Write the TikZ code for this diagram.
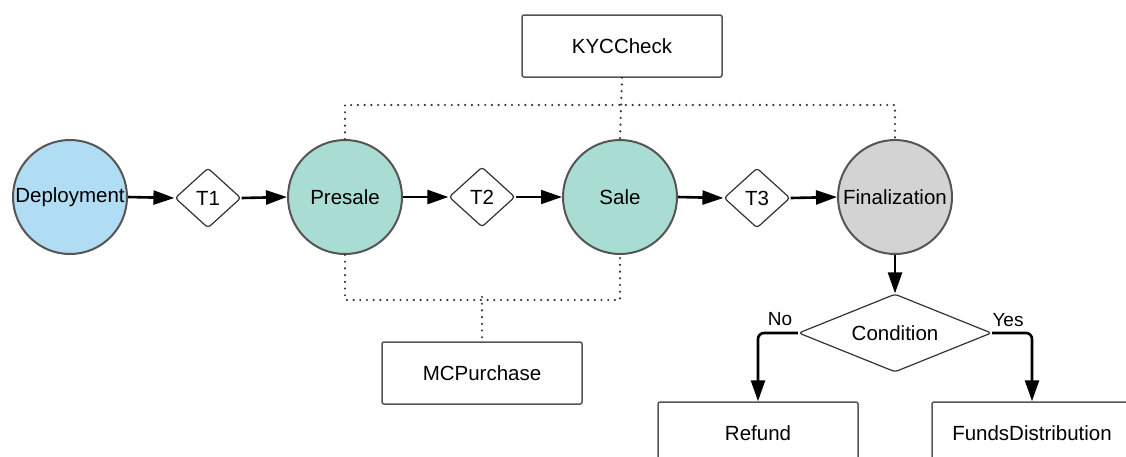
\documentclass[tikz,border=0pt]{standalone}
\usepackage{fontspec}
\setmainfont{Liberation Sans}
\usetikzlibrary{shapes.geometric,arrows.meta}
\definecolor{blueF}{RGB}{176,220,244}
\definecolor{tealF}{RGB}{169,221,211}
\definecolor{grayF}{RGB}{211,211,211}
\definecolor{edgeG}{RGB}{85,85,85}
\tikzset{
  every node/.style={font=\fontsize{20.5}{24}\selectfont},
  state/.style={circle, draw=edgeG, line width=2pt, minimum size=114pt, inner sep=0pt},
  trans/.style={diamond, draw=black!80, line width=1.2pt, minimum width=66pt, minimum height=60pt, inner sep=0pt, rounded corners=3pt},
  box/.style={rectangle, draw=edgeG, line width=1.5pt, minimum width=200pt, minimum height=62pt, rounded corners=2pt, fill=white},
  flow/.style={-{Triangle[length=21pt,width=14pt]}, line width=2.6pt},
  flowthin/.style={-{Triangle[length=21pt,width=14pt]}, line width=1.6pt},
  dots/.style={line width=2.4pt, dash pattern=on 0pt off 6.7pt, line cap=round, black!80},
  lbl/.style={font=\fontsize{19}{22}\selectfont, inner sep=0pt}
}
\begin{document}
\begin{tikzpicture}[x=1pt,y=-1pt]
\clip (0,0) rectangle (1126,456);
\fill[white] (0,0) rectangle (1126,456);

\node[state, fill=blueF, label=center:{Deployment}] (dep) at (70,197) {};
\node[trans] (t1) at (208,198) {T1};
\node[state, fill=tealF, label=center:{Presale}] (pre) at (345,197) {};
\node[trans] (t2) at (482,197) {T2};
\node[state, fill=tealF, label=center:{Sale}] (sale) at (620,197) {};
\node[trans] (t3) at (757,198) {T3};
\node[state, fill=grayF, label=center:{Finalization}] (fin) at (895,197) {};

\node[box] (kyc) at (622,46) {KYCCheck};
\node[box] (mcp) at (482,373) {MCPurchase};

\node[diamond, draw=black!80, line width=1.2pt, minimum width=193pt, minimum height=78pt, inner sep=0pt, shape aspect=2.5, rounded corners=3pt] (cond) at (895,333) {Condition};

\node[box] (ref) at (758,433) {Refund};
\node[box] (fund) at (1032,433) {FundsDistribution};

% main flow
\draw[flow] (dep.east) -- (t1.west);
\draw[flow] (t1.east) -- (pre.west);
\draw[flow] (pre.east) -- (t2.west);
\draw[flowthin] (t2.east) -- (sale.west);
\draw[flow] (sale.east) -- (t3.west);
\draw[flow] (t3.east) -- (fin.west);

% dotted links to KYCCheck
\draw[dots] (pre.north) -- ++(0,-34) -| (fin.north);
\draw[dots] (kyc.south) -- (sale.north);

% dotted links to MCPurchase
\draw[dots] (pre.south) -- ++(0,45) -| (sale.south);
\coordinate (mj) at (mcp.north |- 0,297);
\draw[dots] (mj) -- (mcp.north);

% decision
\draw[flow] (fin.south) -- (cond.north);
\draw[flow, rounded corners=6pt] (cond.west) -| (ref.north);
\draw[flow, rounded corners=6pt] (cond.east) -| (fund.north);
\node[lbl] (no) at (780,319) {No};
\node[lbl] (yes) at (1008,320) {Yes};
\end{tikzpicture}
\end{document}
